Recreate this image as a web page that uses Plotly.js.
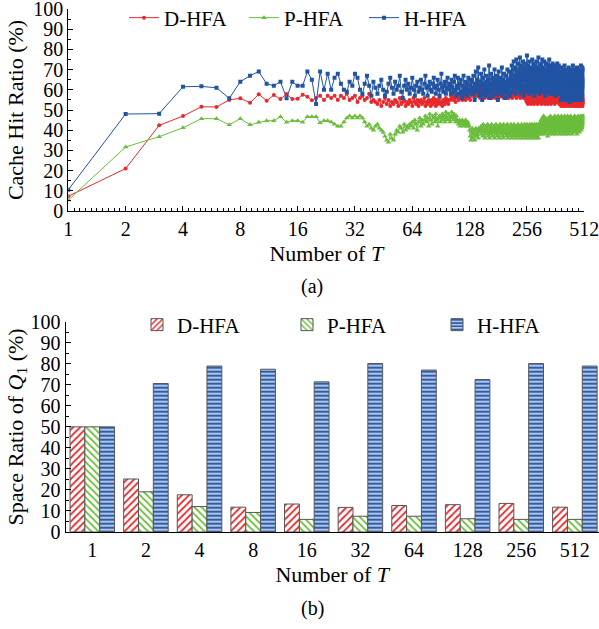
<!DOCTYPE html>
<html>
<head>
<meta charset="utf-8">
<script src="https://cdn.plot.ly/plotly-3.0.1.min.js"></script>
<style>html,body{margin:0;padding:0;background:#fff;}#chart{width:599px;height:629px;}</style>
</head>
<body>
<div id="chart"></div>
<script>
// ---------- Panel (a): cache hit ratio vs number of T (T = 1..512) ----------
const T = [];
for (let i = 1; i <= 512; i++) T.push(i);

const hitD = [
7.3, 21, 42.4, 47, 51.6, 51.5, 55, 55.8, 53.6, 57.8,
54.6, 57.4, 55.4, 57.9, 55.4, 55.6, 57.6, 56.6, 54.8, 56,
57, 55, 57,
56, 57, 55, 57, 56, 58, 55, 56, 57, 54, 56, 57, 55, 56, 58, 54, 55,
54, 53, 55, 52, 54, 56, 53, 55, 52, 54,
53, 55, 54, 52, 56, 53, 54, 55, 52, 54,
53, 55, 54, 52, 56, 54, 53, 55, 52, 54,
55, 53, 54, 56, 52, 54, 53, 55, 54, 52,
55, 53, 56, 54, 52, 55, 53, 54, 56, 53,
54, 52, 55, 54, 53, 56, 54, 55, 53, 55,
55, 57, 56, 58, 55, 57, 56, 54, 58, 57,
56, 55, 58, 57, 56, 59, 55, 57, 58, 56,
57, 55, 58, 56, 59, 57, 56, 58, 55, 57,
58, 60, 57, 59, 61, 56, 58, 60, 57, 62,
59, 57, 60, 58, 56, 61, 59, 58, 60, 57,
62, 58, 56, 59, 61, 57, 60, 58, 59, 56,
61, 58, 60, 57, 59, 62, 58, 56, 60, 59,
57, 61, 58, 60, 56, 59, 62, 57, 58, 60,
59, 56, 61, 58, 57, 60, 59, 62, 58, 57,
60, 58, 56, 61, 59, 57, 60, 62, 58, 59,
57, 60, 58, 61, 56, 59, 58, 60, 62, 57,
59, 61, 58, 56, 60, 57, 59, 62, 58, 60,
57, 59, 61, 58, 56, 60, 58, 59, 62, 57,
60, 58, 61, 57, 59, 56, 60, 62, 58, 59,
61, 57, 59, 58, 60, 56, 62, 58, 59, 60,
57, 59, 55, 60, 54, 58, 56, 61, 53, 57,
59, 55, 58, 60, 54, 56, 59, 57, 53, 58,
60, 55, 57, 59, 54, 61, 56, 58, 53, 57,
59, 55, 60, 57, 54, 58, 56, 61, 55, 57,
53, 59, 56, 58, 60, 54, 57, 55, 59, 56,
61, 54, 58, 57, 53, 59, 56, 60, 55, 58,
57, 54, 59, 56, 61, 55, 58, 53, 57, 60,
56, 58, 54, 59, 57, 55, 60, 56, 53, 58,
59, 55, 57, 61, 54, 58, 56, 59, 55, 57,
60, 53, 58, 56, 59, 54, 57, 61, 55, 58,
56, 59, 54, 57, 60, 55, 58, 53, 57, 59,
55, 58, 56, 60, 54, 57, 59, 55, 61, 56,
58, 54, 57, 59, 55, 60, 56, 53, 58, 57,
55, 57, 53, 56, 58, 54, 52, 56, 57, 54,
55, 53, 57, 56, 52, 58, 55, 54, 56, 53,
57, 55, 52, 56, 54, 58, 53, 55, 57, 54,
56, 52, 55, 57, 53, 56, 54, 58, 55, 53,
56, 54, 57, 52, 55, 56, 53, 58, 54, 55,
57, 53, 56, 54, 52, 55, 57, 54, 56, 53,
58, 55, 53, 56, 54, 57, 52, 55, 56, 54,
53, 57, 55, 52, 56, 54, 58, 53, 55, 57,
54, 56, 52, 55, 57, 53, 56, 54, 55, 58,
53, 55, 57, 54, 52, 56, 55, 53, 57, 54,
56, 52, 55, 58, 54, 56, 53, 55, 57, 54,
52, 56, 55, 53, 57, 54, 56, 55, 53, 58,
54, 55, 57, 52, 56, 54, 55, 53, 56, 54,
55, 53
];

const hitP = [
5.4, 31.7, 36.8, 41.2, 45.7, 45.7, 42.7, 45.7, 42.7, 43.9,
44.7, 44.7, 46.7, 43.9, 44.7, 44.7, 43.9, 46.7, 46.7, 46.7,
43.7, 44.7, 44.7,
44, 43, 42, 42, 44, 46, 47, 46, 47, 46,
47, 46, 44, 42, 43, 41, 40, 42, 43, 41, 40, 39,
37, 35, 34, 38, 36,
35, 38, 40, 39, 42, 41, 39, 43, 40, 42, 41, 43,
42, 44, 41, 45, 43, 40, 44, 46, 42, 45, 43,
45, 47, 44, 46, 42, 48, 45, 43, 47, 46, 44, 48, 45, 42, 46, 47, 44,
46, 48, 45, 47, 44, 49, 46, 45, 48, 47, 44, 46, 49, 47, 45, 48, 46, 44, 47, 45,
44, 43, 45, 42, 44, 43, 45, 44, 42, 43, 44, 45, 43, 42, 44, 43, 42,
40, 37, 35, 39, 41, 36, 38, 40, 35, 39, 41, 37, 40, 38, 36, 41, 39, 40,
40, 42, 38, 41, 37, 43, 39, 40, 36, 42,
41, 38, 40, 43, 37, 39, 42, 36, 40, 41,
38, 43, 39, 37, 41, 40, 42, 36, 39, 41,
43, 38, 40, 37, 42, 39, 41, 36, 40, 43,
38, 41, 39, 42, 37, 40, 36, 43, 39, 41,
40, 38, 42, 37, 41, 39, 43, 36, 40, 38,
42, 39, 41, 37, 40, 43, 38, 36, 41, 39,
42, 40, 37, 43, 39, 41, 38, 36, 40, 42,
39, 41, 37, 40, 43, 38, 42, 36, 39, 41,
40, 37, 42, 39, 43, 38, 41, 36, 40, 42,
38, 41, 39, 43, 37, 40, 42, 36, 39, 41,
43, 38, 40, 37, 42, 39, 41, 36, 40, 43,
39, 41, 38, 42, 37, 40, 43, 39, 36, 41,
42, 38, 40, 37, 43, 39, 41, 38, 42, 36,
40, 43, 39, 41, 37, 42, 38, 40, 36, 43,
41, 39, 42, 38, 40,
42, 44, 39, 45, 41, 43, 38, 46, 42, 40,
44, 41, 47, 39, 43, 42, 45, 38, 44, 41,
46, 40, 43, 42, 39, 45, 41, 44, 37, 43,
42, 46, 40, 44, 41, 38, 45, 43, 42, 47,
39, 44, 41, 43, 46, 40, 42, 45, 38, 44,
43, 41, 46, 39, 42, 44, 40, 47, 43, 41,
45, 38, 44, 42, 46, 40, 43, 41, 45, 39,
44, 42, 47, 40, 43, 45, 41, 38, 44, 42,
46, 43, 39, 45, 41, 44, 42, 47, 40, 43,
41, 45, 38, 44, 42, 46, 40, 43, 45, 39,
44, 41, 47, 42, 43, 40, 45, 38, 44, 46,
42, 41, 45, 39, 43, 44, 40, 47, 42, 41,
45, 43, 38, 46, 42, 44, 40, 43, 45, 41,
39, 44, 42, 47, 41, 43, 45, 40, 44, 42,
46, 38, 43, 41, 45, 42, 44, 39, 46, 43,
41, 45, 40, 44, 42, 47, 43, 39, 45, 42,
44, 41, 46, 43, 40, 45, 42, 44, 38, 46,
43, 41, 45, 42, 47, 40, 44, 43, 41, 46,
42, 45, 39, 44, 43, 46, 41, 45, 42, 47,
44, 40, 45, 43, 46, 42, 44, 41, 47, 43,
45, 44, 42, 46, 43, 45, 44, 47, 43, 46,
45, 47
];

const hitH = [
10.5, 48, 48.2, 61.5, 61.7, 61, 55.8, 64, 67, 69,
63, 62, 64, 55.8, 64, 62, 62, 69, 65, 53,
69, 60, 68,
60, 66, 68, 63, 60, 59, 64, 62, 68, 66, 60, 58, 63, 67, 62, 57, 64,
61, 58, 62, 65, 60, 57, 59, 63, 66, 61,
58, 64, 60, 62, 67, 59, 56, 62, 65, 60,
63, 58, 61, 66, 60, 57, 62, 64, 59, 61,
65, 60, 58, 63, 67, 61, 57, 62, 64, 60,
59, 63, 66, 61, 58, 62, 65, 60, 57, 63,
68, 61, 59, 62, 64, 58, 61, 66, 60, 63,
62, 58, 65, 61, 59, 64, 67, 60, 57, 62,
66, 61, 58, 63, 65, 59, 56, 62, 67, 60,
58, 64, 61, 57, 63, 66, 60, 59, 62, 65,
64, 58, 61, 67, 60, 55, 63, 69, 62, 59,
65, 71, 60, 57, 64, 62, 68, 58, 55, 66,
61, 63, 70, 59, 57, 64, 67, 60, 62, 58,
65, 72, 61, 56, 63, 68, 60, 59, 66, 62,
57, 64, 70, 61, 58, 65, 63, 67, 60, 55,
62, 69, 64, 59, 61, 66, 58, 63, 71, 60,
57, 65, 62, 68, 59, 61, 64, 56, 67, 63,
60, 70, 62, 58, 65, 61, 69, 64, 57, 66,
68, 62, 72, 65, 59, 70, 64, 74, 61, 67,
63, 71, 58, 66, 75, 62, 69, 64, 60, 73,
67, 61, 70, 65, 76, 63, 58, 68, 72, 64,
60, 69, 66, 74, 62, 57, 71, 65, 68, 61,
73, 66, 59, 70, 64, 77, 62, 67, 60, 72,
65, 69, 58, 74, 63, 68, 61, 71, 66, 59,
70, 64, 75, 62, 67, 60, 73, 65, 69, 57,
66, 72, 63, 70, 61, 68, 74, 64, 59, 71,
65, 62, 69, 76, 60, 67, 63, 72, 58, 66,
70, 64, 61, 73, 68, 62, 66, 75, 59, 69,
63, 71, 65, 60, 68, 74, 62, 67, 57, 70,
64, 69, 61, 73, 66, 59, 72, 63, 68, 60,
71, 65, 62, 69, 75, 61, 67, 58, 70, 64,
66, 72, 60, 68, 63, 71, 59, 65, 73, 62,
69, 61, 66, 70, 58, 64, 72, 60, 67, 63,
68, 57, 65, 71, 62, 69, 60, 66, 73, 61,
64, 70, 59, 67, 62, 72, 65, 58, 68, 63,
60, 66, 58, 69, 62, 55, 64, 71, 59, 63,
67, 57, 65, 61, 70, 58, 63, 68, 56, 64,
60, 66, 72, 59, 62, 57, 65, 69, 61, 55,
63, 67, 58, 64, 70, 60, 56, 66, 62, 68,
59, 65, 61, 71, 57, 63, 67, 60, 54, 64,
69, 58, 62, 66, 61, 56, 65, 70, 59, 63,
57, 68, 62, 60, 66, 72, 58, 64, 61, 55,
67, 63, 59, 65, 70, 57, 62, 68, 60, 64,
56, 66, 61, 69, 58, 63, 65, 59, 71, 62,
55, 64, 67, 60, 57, 66, 62, 70, 58, 63,
61, 68, 56, 65, 59, 64, 69, 57, 62, 66,
60, 72, 58, 63, 67, 55, 64, 61, 68, 59,
62, 66, 57, 70, 63, 60, 65, 58, 64, 71,
61, 70
];

const tickT = [1, 2, 4, 8, 16, 32, 64, 128, 256, 512];

// ---------- Panel (b): space ratio of Q1 ----------
const groups = ['1', '2', '4', '8', '16', '32', '64', '128', '256', '512'];
const spaceD = [50, 25.2, 17.7, 11.8, 13.3, 11.7, 12.6, 13.0, 13.6, 11.8];
const spaceP = [50, 19.1, 12.1, 9.3, 6.0, 7.5, 7.5, 6.3, 6.0, 6.0];
const spaceH = [50, 70.6, 78.9, 77.4, 71.4, 80.1, 77.0, 72.5, 80.1, 78.9];

const seriesNames = ['D-HFA', 'P-HFA', 'H-HFA'];
const RED = '#e8282c', GREEN = '#6bbd3c', BLUE = '#2153a3';
const FONT = 'Liberation Serif';

// minor ticks for the log2 axis (10 divisions per octave)
const minorT = [];
for (let k = 0; k < 9; k++) for (let j = 1; j < 10; j++) minorT.push(Math.pow(2, k + j / 10));

const traces = [
  {x: T, y: hitD, name: seriesNames[0], type: 'scatter', mode: 'lines+markers',
   line: {color: RED, width: 1}, marker: {color: RED, size: 4, symbol: 'circle'},
   xaxis: 'x', yaxis: 'y', legend: 'legend'},
  {x: T, y: hitP, name: seriesNames[1], type: 'scatter', mode: 'lines+markers',
   line: {color: GREEN, width: 1}, marker: {color: GREEN, size: 5, symbol: 'triangle-up'},
   xaxis: 'x', yaxis: 'y', legend: 'legend'},
  {x: T, y: hitH, name: seriesNames[2], type: 'scatter', mode: 'lines+markers',
   line: {color: BLUE, width: 1}, marker: {color: BLUE, size: 4, symbol: 'square'},
   xaxis: 'x', yaxis: 'y', legend: 'legend'},
  {x: groups, y: spaceD, name: seriesNames[0], type: 'bar',
   marker: {color: '#ffffff', line: {color: '#555555', width: 1},
            pattern: {shape: '/', fgcolor: RED, bgcolor: '#ffffff', size: 5, solidity: 0.35}},
   xaxis: 'x2', yaxis: 'y2', legend: 'legend2'},
  {x: groups, y: spaceP, name: seriesNames[1], type: 'bar',
   marker: {color: '#ffffff', line: {color: '#555555', width: 1},
            pattern: {shape: '\\', fgcolor: GREEN, bgcolor: '#ffffff', size: 5, solidity: 0.35}},
   xaxis: 'x2', yaxis: 'y2', legend: 'legend2'},
  {x: groups, y: spaceH, name: seriesNames[2], type: 'bar',
   marker: {color: '#a9bde2', line: {color: '#555555', width: 1},
            pattern: {shape: '-', fgcolor: BLUE, bgcolor: '#b3c5e6', size: 4, solidity: 0.45}},
   xaxis: 'x2', yaxis: 'y2', legend: 'legend2'}
];

const W = 599, H = 629;
const px = v => v / W, py = v => 1 - v / H;

const axisCommon = {
  showline: true, linecolor: '#000', linewidth: 1, mirror: false,
  ticks: 'inside', tickcolor: '#000', ticklen: 5, tickwidth: 1,
  showgrid: false, zeroline: false, automargin: false,
  ticklabeloverflow: 'allow',
  tickfont: {family: FONT, size: 20, color: '#000'}
};

const layout = {
  width: W, height: H,
  margin: {l: 0, r: 0, t: 0, b: 0, pad: 0, autoexpand: false},
  paper_bgcolor: '#fff', plot_bgcolor: '#fff',
  font: {family: FONT, color: '#000'},
  showlegend: true,
  barmode: 'group', bargap: 0.17, bargroupgap: 0,
  xaxis: Object.assign({}, axisCommon, {
    type: 'log', domain: [px(68.3), px(584.3)], anchor: 'y',
    range: [0, Math.log10(512)],
    tickmode: 'array', tickvals: tickT, ticktext: tickT.map(String),
    minor: {tickmode: 'array', tickvals: minorT, ticks: 'inside', ticklen: 3, tickcolor: '#000'},
    title: {text: 'Number of <i>T</i>', font: {family: FONT, size: 22}, standoff: 6}
  }),
  yaxis: Object.assign({}, axisCommon, {
    domain: [py(211), py(9)], anchor: 'x', range: [0, 100],
    tickmode: 'linear', tick0: 0, dtick: 10,
    minor: {dtick: 5, ticks: 'inside', ticklen: 3, tickcolor: '#000'},
    title: {text: 'Cache Hit Ratio (%)', font: {family: FONT, size: 22}, standoff: 3}
  }),
  xaxis2: Object.assign({}, axisCommon, {
    type: 'category', domain: [px(65.5), 1], anchor: 'y2',
    range: [-0.5, 9.45], ticks: '',
    title: {text: 'Number of <i>T</i>', font: {family: FONT, size: 22}, standoff: 6}
  }),
  yaxis2: Object.assign({}, axisCommon, {
    domain: [py(532), py(321.7)], anchor: 'x2', range: [0, 100],
    tickmode: 'linear', tick0: 0, dtick: 10,
    minor: {dtick: 5, ticks: 'inside', ticklen: 3, tickcolor: '#000'},
    title: {text: 'Space Ratio of <i>Q</i><sub>1</sub> (%)', font: {family: FONT, size: 22}, standoff: 0}
  }),
  legend: {
    orientation: 'h', x: px(124), y: py(18), xanchor: 'left', yanchor: 'middle',
    bgcolor: 'rgba(0,0,0,0)', borderwidth: 0, itemwidth: 30,
    entrywidth: 75, entrywidthmode: 'pixels',
    font: {family: FONT, size: 21, color: '#000'}
  },
  legend2: {
    orientation: 'h', x: px(137), y: py(325), xanchor: 'left', yanchor: 'middle',
    bgcolor: 'rgba(0,0,0,0)', borderwidth: 0, itemwidth: 30,
    entrywidth: 105, entrywidthmode: 'pixels',
    font: {family: FONT, size: 21, color: '#000'}
  },
  annotations: [
    {text: '(a)', xref: 'paper', yref: 'paper', x: px(312), y: py(286), showarrow: false,
     xanchor: 'center', yanchor: 'middle', font: {family: FONT, size: 20, color: '#000'}},
    {text: '(b)', xref: 'paper', yref: 'paper', x: px(312), y: py(608), showarrow: false,
     xanchor: 'center', yanchor: 'middle', font: {family: FONT, size: 20, color: '#000'}}
  ]
};

Plotly.newPlot('chart', traces, layout, {displayModeBar: false, staticPlot: true});
</script>
</body>
</html>
